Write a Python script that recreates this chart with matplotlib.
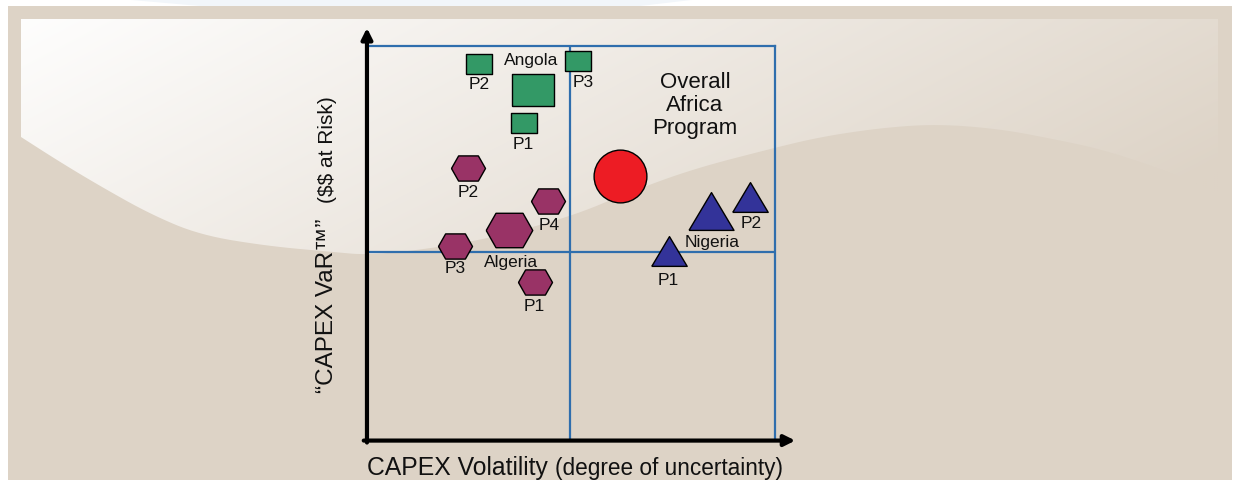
import numpy as np
import matplotlib
matplotlib.use('Agg')  # no display
import matplotlib.pyplot as plt
from matplotlib.patches import Rectangle, Polygon
from matplotlib.colors import to_rgb

# ---- data (both scales run 0-10) ----
angola_labels = ['Angola', 'P1', 'P2', 'P3']
angola_x = [4.03, 3.81, 2.72, 5.14]
angola_y = [8.88, 8.04, 9.54, 9.61]

algeria_labels = ['Algeria', 'P1', 'P2', 'P3', 'P4']
algeria_x = [3.45, 4.08, 2.44, 2.12, 4.41]
algeria_y = [5.32, 3.99, 6.90, 4.91, 6.06]

nigeria_labels = ['Nigeria', 'P1', 'P2']
nigeria_x = [8.42, 7.39, 9.38]
nigeria_y = [5.81, 4.78, 6.17]

overall_label = 'Overall\nAfrica\nProgram'
overall_x = [6.18]
overall_y = [6.69]

x_split = 4.95   # quadrant dividers
y_split = 4.76

# ---- styles / layout ----
W, H = 1238, 481
LABEL_FONT = ['Liberation Sans', 'DejaVu Sans']
REGULAR = ['Liberation Sans', 'DejaVu Sans']
BEIGE = '#ddd3c6'
GRID_BLUE = '#2f6ead'

rect_marker = [(-0.5, -0.375), (0.5, -0.375), (0.5, 0.375), (-0.5, 0.375), (-0.5, -0.375)]
hex_marker = [(-0.5, 0), (-0.29, -0.37), (0.29, -0.37), (0.5, 0), (0.29, 0.37), (-0.29, 0.37), (-0.5, 0)]
tri_marker = [(-0.5, -0.42), (0.5, -0.42), (0, 0.42), (-0.5, -0.42)]

groups = [
    # labels, x, y, marker, colour, (total size, project size), label offsets in px (dx, dy down)
    (angola_labels, angola_x, angola_y, rect_marker, '#339966', (30.2, 19.4),
     [(-1, -31), (0, 20), (0, 19), (5.5, 20.5)]),
    (algeria_labels, algeria_x, algeria_y, hex_marker, '#993366', (33.5, 24.5),
     [(2, 32), (0, 23), (0, 24), (0, 21), (1, 24)]),
    (nigeria_labels, nigeria_x, nigeria_y, tri_marker, '#333399', (32.4, 25.5),
     [(1, 30.5), (-1, 28), (1, 25.5)]),
]


def chaikin(pts, n=3):
    # round off the corners of the background swoosh outline
    pts = np.asarray(pts, float)
    for _ in range(n):
        q = 0.75 * pts[:-1] + 0.25 * pts[1:]
        r = 0.25 * pts[:-1] + 0.75 * pts[1:]
        mid = np.empty((2 * len(q), 2))
        mid[0::2], mid[1::2] = q, r
        pts = np.vstack([pts[:1], mid, pts[-1:]])
    return pts


fig = plt.figure(figsize=(W / 100, H / 100), dpi=100)
fig.patch.set_facecolor('white')

# background decoration in pixel coordinates
bg = fig.add_axes([0, 0, 1, 1], zorder=0)
bg.axis('off')

bg.add_patch(Polygon([(120, 0), (700, 0), (640, 7), (200, 7)], closed=True,
                     facecolor='#f2f6fa', edgecolor='none', zorder=1))
bg.add_patch(Rectangle((8, 7), 1224, 474, facecolor=BEIGE, edgecolor='none', zorder=1))

edge = [(1218, 193), (1153, 167), (1100, 150), (1053, 140),
        (1000, 130), (937, 125), (880, 129), (820, 138), (770, 150), (693, 170),
        (630, 193), (570, 218), (487, 240), (420, 251), (367, 256), (333, 253),
        (267, 247), (200, 236), (150, 215), (100, 187), (60, 163), (21, 138)]
swoosh = np.vstack([[(21, 20), (1218, 20)], chaikin(edge)])
swoosh_patch = Polygon(swoosh, closed=True, facecolor='none', edgecolor='none')
bg.add_patch(swoosh_patch)

gx, gy = np.meshgrid(np.linspace(21, 1218, 400), np.linspace(20, 260, 120))
t = np.clip(0.03 + 0.78 * (gx - 21) / 1197 + 0.3 * (gy - 20) / 240, 0, 1)
c0 = np.array(to_rgb('#ffffff'))
c1 = np.array(to_rgb(BEIGE))
grad = c0[None, None, :] * (1 - t[..., None]) + c1[None, None, :] * t[..., None]
img = bg.imshow(grad, extent=(21, 1218, 260, 20), aspect='auto',
                interpolation='bilinear', zorder=2)
img.set_clip_path(swoosh_patch)
bg.set_xlim(0, W)
bg.set_ylim(H, 0)

# main chart
ax = fig.add_axes([369 / W, 1 - 440 / H, (775 - 369) / W, (440 - 47) / H], zorder=1)
ax.set_xlim(0, 10)
ax.set_ylim(0, 10)
ax.patch.set_alpha(0)
ax.set_xticks([])
ax.set_yticks([])
for side in ['top', 'right']:
    ax.spines[side].set_color(GRID_BLUE)
    ax.spines[side].set_linewidth(1.6)
for side in ['left', 'bottom']:
    ax.spines[side].set_visible(False)
ax.axvline(x_split, color=GRID_BLUE, lw=1.6, zorder=1)
ax.axhline(y_split, color=GRID_BLUE, lw=1.6, zorder=1)

# black arrow axes
arrow = dict(arrowstyle='-|>', lw=3, color='black', mutation_scale=16, shrinkA=0, shrinkB=0)
ax.annotate('', xy=(-0.05, 10.46), xytext=(-0.05, -0.09), arrowprops=arrow,
            annotation_clip=False, zorder=5)
ax.annotate('', xy=(10.5, -0.04), xytext=(-0.13, -0.04), arrowprops=arrow,
            annotation_clip=False, zorder=5)

PX = 0.72  # points per pixel
for labels, xs, ys, marker, colour, sizes, offsets in groups:
    for i, (lab, x, y) in enumerate(zip(labels, xs, ys)):
        ms = sizes[0] if i == 0 else sizes[1]
        ax.plot(x, y, linestyle='none', marker=marker, markersize=ms,
                markerfacecolor=colour, markeredgecolor='black', markeredgewidth=1.0,
                zorder=3, clip_on=False)
        dx, dy = offsets[i]
        ax.annotate(lab, (x, y), xytext=(dx * PX, -dy * PX), textcoords='offset points',
                    ha='center', va='center', fontsize=12.5, family=LABEL_FONT, color='#111111',
                    zorder=4)

ax.plot(overall_x, overall_y, linestyle='none', marker='o', markersize=38,
        markerfacecolor='#ed1c24', markeredgecolor='black', markeredgewidth=1.0, zorder=3)
ax.text(8.03, 8.52, overall_label, ha='center', va='center', fontsize=16,
        family=REGULAR, linespacing=1.12, color='#111111')

# axis titles, two sizes each
fig.text(367 / W, 1 - 475 / H, 'CAPEX Volatility', ha='left', va='baseline',
         fontsize=17.8, family=REGULAR, color='#111111')
fig.text(555 / W, 1 - 475 / H, '(degree of uncertainty)', ha='left', va='baseline',
         fontsize=16.3, family=REGULAR, color='#111111')
fig.text(333 / W, 1 - 393 / H, '\u201cCAPEX VaR\u2122\u201d', ha='left', va='baseline',
         rotation=90, rotation_mode='anchor', fontsize=17.5, family=REGULAR, color='#111111')
fig.text(333 / W, 1 - 203 / H, '($$ at Risk)', ha='left', va='baseline', parse_math=False,
         rotation=90, rotation_mode='anchor', fontsize=15, family=REGULAR, color='#111111')

fig.savefig('out.png', dpi=100)
